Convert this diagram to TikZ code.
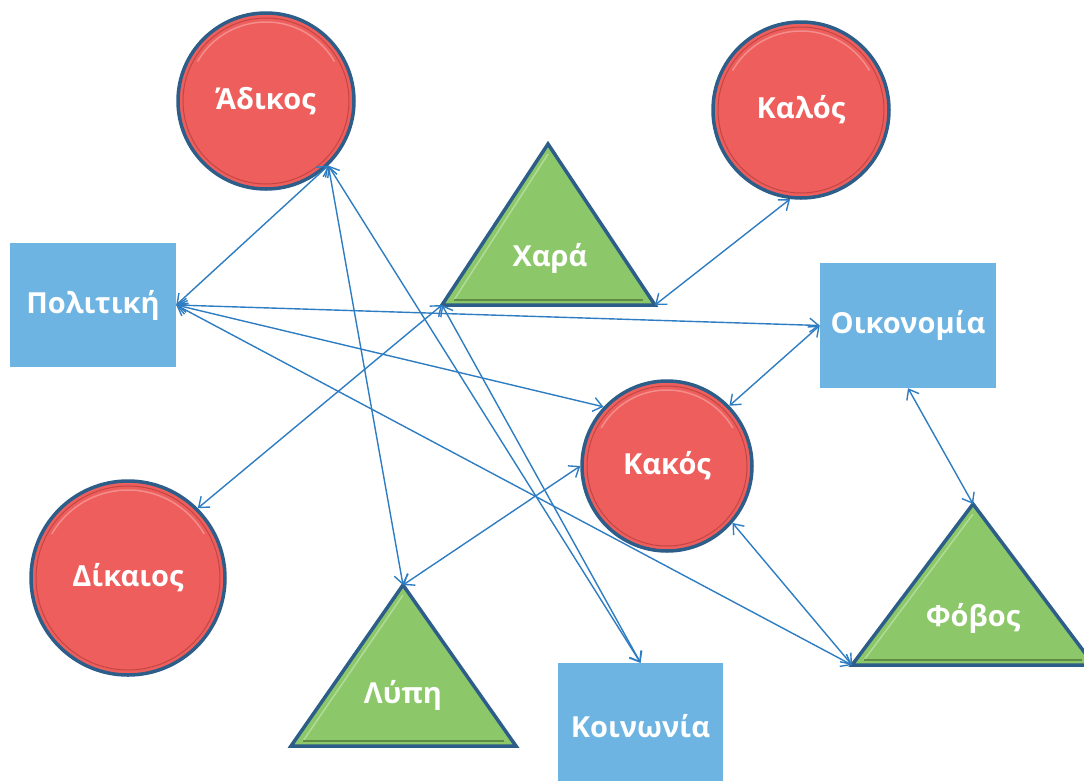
\documentclass[tikz,border=0pt]{standalone}
\usepackage{fontspec}
\setmainfont{Open Sans}
\usetikzlibrary{arrows.meta,calc}
\definecolor{redfill}{HTML}{EE5E5C}
\definecolor{redring}{HTML}{C44644}
\definecolor{redhi}{HTML}{F48E8C}
\definecolor{edgeblue}{HTML}{2D5E8A}
\definecolor{greenfill}{HTML}{8CC76A}
\definecolor{greenhi}{HTML}{B2DC96}
\definecolor{greendark}{HTML}{5E8C45}
\definecolor{boxblue}{HTML}{6DB4E2}
\definecolor{linkblue}{HTML}{2E7DC2}
\tikzset{
  lbl/.style={text=white, font=\bfseries\fontsize{29}{33}\selectfont},
  ball/.style={circle, fill=redfill, draw=edgeblue, line width=3.5pt, inner sep=0pt, lbl},
  box/.style={rectangle, fill=boxblue, inner sep=0pt, lbl},
  tri/.style={fill=greenfill, draw=edgeblue, line width=3.5pt, line join=miter},
  trihi/.style={draw=greenhi, line width=1.5pt},
  tridk/.style={draw=greendark, line width=1.5pt},
  ring/.style={draw=redring, line width=1pt},
  conn/.style={draw=linkblue, line width=1.4pt, {Straight Barb[length=9pt,width=14pt]}-{Straight Barb[length=9pt,width=14pt]}}
}
\begin{document}
\begin{tikzpicture}[x=1pt,y=-1pt]
\useasboundingbox (0,0) rectangle (1084,780);
\clip (0,0) rectangle (1084,780);
% circles
\node[ball, minimum size=176pt] (adikos) at (266,101) {Άδικος};
\node[ball, minimum size=176pt] (kalos) at (801,110) {Καλός};
\node[ball, minimum size=170pt] (kakos) at (667,466) {Κακός};
\node[ball, minimum size=194pt] (dikaios) at (128,578) {Δίκαιος};
\foreach \c/\r in {adikos/83,kalos/83,kakos/80,dikaios/92}{
  \draw[ring] (\c.center) circle[radius=\r pt];
  \draw[draw=redhi, line width=1.5pt] (\c.center) ++(150:\r pt-4pt) arc[start angle=150, end angle=30, radius=\r pt-4pt];
}
% boxes
\node[box, minimum width=166pt, minimum height=124pt] (polit) at (93,305) {Πολιτική};
\node[box, minimum width=176pt, minimum height=125pt] (oikon) at (908,325.5) {Οικονομία};
\node[box, minimum width=165pt, minimum height=127pt] (koin) at (640.5,726.5) {Κοινωνία};
% triangles
\coordinate (chara-a) at (548,144);
\coordinate (chara-l) at (442,305);
\coordinate (chara-r) at (655,305);
\coordinate (lypi-a) at (403,585);
\coordinate (lypi-l) at (291,746);
\coordinate (lypi-r) at (516,746);
\coordinate (fovos-a) at (973,504);
\coordinate (fovos-l) at (852,665);
\coordinate (fovos-r) at (1094,665);
\foreach \t in {chara,lypi,fovos}{
  \draw[tri] (\t-a) -- (\t-r) -- (\t-l) -- cycle;
  \draw[trihi] ($(\t-a)+(0,10)$) -- ($(\t-l)+(12,-5)$);
  \draw[tridk] ($(\t-l)+(12,-5)$) -- ($(\t-r)+(-12,-5)$);
}
\node[lbl] (chara) at (550,258) {Χαρά};
\node[lbl] (lypi) at (403,695) {Λύπη};
\node[lbl] (fovos) at (973,618) {Φόβος};
% connectors
\draw[conn] (adikos.-46) -- (polit.east);
\draw[conn] (adikos.-46) -- (lypi-a);
\draw[conn] (adikos.-46) -- (koin.north);
\draw[conn] (kalos.-97) -- (chara-r);
\draw[conn] (polit.east) -- (oikon.west);
\draw[conn] (polit.east) -- (kakos.137);
\draw[conn] (polit.east) -- (fovos-l);
\draw[conn] (oikon.west) -- (kakos.44);
\draw[conn] (oikon.south) -- (fovos-a);
\draw[conn] (kakos.-41) -- (fovos-l);
\draw[conn] (kakos.180) -- (lypi-a);
\draw[conn] (chara-l) -- (dikaios.45);
\draw[conn] (chara-l) -- (koin.north);
\end{tikzpicture}
\end{document}
